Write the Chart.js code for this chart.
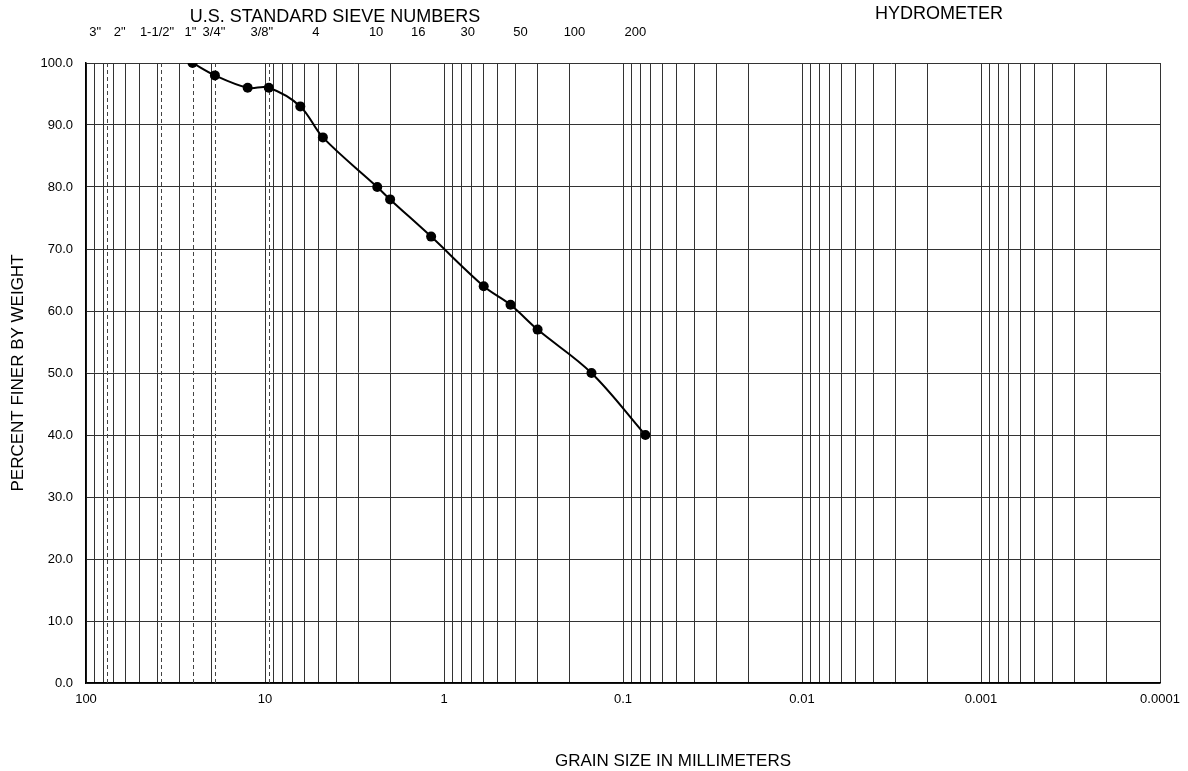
<!DOCTYPE html>
<html>
<head>
<meta charset="utf-8">
<script src="https://cdn.jsdelivr.net/npm/chart.js@4"></script>
<style>
  body { margin: 0; background: #fff; }
  #wrap { width: 1188px; height: 771px; }
</style>
</head>
<body>
<div id="wrap"><canvas id="gradation"></canvas></div>
<script>
// grain size (mm) and percent passing
const grainSizes = [25.4, 19.05, 12.5, 9.525, 6.35, 4.75, 2.36, 2.0, 1.18, 0.6, 0.425, 0.3, 0.15, 0.075];
const percentFiner = [100, 98, 96, 96, 93, 88, 80, 78, 72, 64, 61, 57, 50, 40];

// sieve labels along the top
const sieveLabels = ['3"', '2"', '1-1/2"', '1"', '3/4"', '3/8"', '4', '10', '16', '30', '50', '100', '200'];
const sieveOpenings = [76.2, 50.8, 38.1, 25.4, 19.05, 9.525, 4.75, 2.0, 1.18, 0.6, 0.3, 0.15, 0.075];

// dashed guide lines at the inch sieves
const dashedSieves = [76.2, 38.1, 25.4, 19.05, 9.525];

const decades = [100, 10, 1, 0.1, 0.01, 0.001, 0.0001];
const decadeLabels = ['100', '10', '1', '0.1', '0.01', '0.001', '0.0001'];

const yTicks = [0, 10, 20, 30, 40, 50, 60, 70, 80, 90, 100];

const FONT = '"Liberation Sans", Arial, sans-serif';

// every 1..9 line in each decade
const xGrid = [];
for (let d = 0.0001; d < 100; d *= 10) {
  for (let m = 1; m < 10; m++) xGrid.push(+(d * m).toPrecision(3));
}
xGrid.push(100);

// the top labels sit a little left of their sieve line, not evenly
const labelNudge = [-12, -19, -4, -2, -1, -7, -7, -14, -13, -16, -17, -17, -10];

const overlay = {
  id: 'overlay',
  beforeDatasetsDraw(chart) {
    const { ctx, chartArea, scales: { x } } = chart;
    ctx.save();
    ctx.strokeStyle = '#444';
    ctx.lineWidth = 1;
    ctx.setLineDash([4, 3]);
    dashedSieves.forEach(v => {
      const px = Math.round(x.getPixelForValue(v)) + 0.5;
      ctx.beginPath();
      ctx.moveTo(px, chartArea.top);
      ctx.lineTo(px, chartArea.bottom);
      ctx.stroke();
    });
    ctx.restore();
  },
  afterDraw(chart) {
    const { ctx, chartArea, scales: { x } } = chart;
    ctx.save();
    ctx.fillStyle = '#000';
    ctx.textBaseline = 'middle';
    ctx.textAlign = 'center';

    ctx.font = '18px ' + FONT;
    ctx.fillText('U.S. STANDARD SIEVE NUMBERS', 335, 17);
    ctx.fillText('HYDROMETER', 939, 14);

    ctx.font = '13px ' + FONT;
    sieveLabels.forEach((lab, i) => {
      ctx.fillText(lab, x.getPixelForValue(sieveOpenings[i]) + labelNudge[i], 32);
    });

    ctx.font = '17px ' + FONT;
    ctx.fillText('GRAIN SIZE IN MILLIMETERS', 673, 761);

    ctx.translate(18, (chartArea.top + chartArea.bottom) / 2);
    ctx.rotate(-Math.PI / 2);
    ctx.fillText('PERCENT FINER BY WEIGHT', 0, 0);
    ctx.restore();
  }
};

new Chart(document.getElementById('gradation'), {
  type: 'line',
  data: {
    datasets: [{
      data: grainSizes.map((s, i) => ({ x: s, y: percentFiner[i] })),
      borderColor: '#000',
      backgroundColor: '#000',
      borderWidth: 2,
      pointRadius: 5,
      pointBackgroundColor: '#000',
      pointBorderWidth: 0,
      tension: 0.35,
      fill: false
    }]
  },
  options: {
    responsive: true,
    maintainAspectRatio: false,
    animation: false,
    layout: { padding: { left: 0, right: 28, top: 63, bottom: 0 } },
    plugins: { legend: { display: false }, tooltip: { enabled: false } },
    scales: {
      x: {
        type: 'logarithmic',
        reverse: true,
        min: 0.0001,
        max: 100,
        afterBuildTicks: s => { s.ticks = xGrid.map(v => ({ value: v })); },
        afterFit: s => { s.height = 88; },
        ticks: {
          autoSkip: false,
          maxRotation: 0,
          padding: 9,
          color: '#000',
          font: { family: FONT, size: 13 },
          callback: v => {
            const i = decades.findIndex(d => Math.abs(d - v) / d < 1e-6);
            return i >= 0 ? decadeLabels[i] : '';
          }
        },
        grid: { color: '#333', lineWidth: 1, drawTicks: false },
        border: { color: '#000', width: 1.5 }
      },
      y: {
        min: 0,
        max: 100,
        afterBuildTicks: s => { s.ticks = yTicks.map(v => ({ value: v })); },
        afterFit: s => { s.width = 86; },
        ticks: {
          padding: 13,
          color: '#000',
          font: { family: FONT, size: 13 },
          callback: v => v.toFixed(1)
        },
        grid: { color: '#333', lineWidth: 1, drawTicks: false },
        border: { color: '#000', width: 1.5 }
      }
    }
  },
  plugins: [overlay]
});
</script>
</body>
</html>
